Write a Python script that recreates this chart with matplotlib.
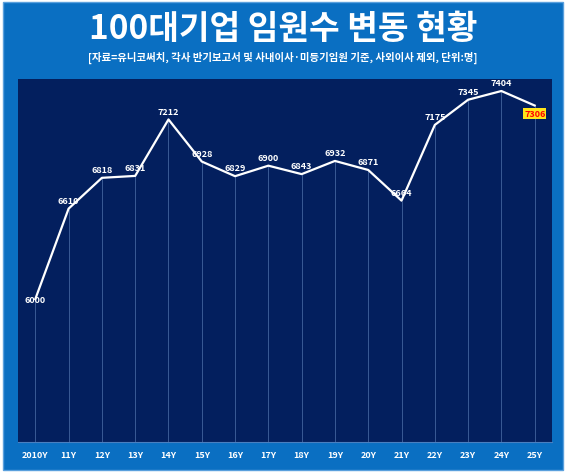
import matplotlib
matplotlib.use("Agg")
import matplotlib.pyplot as plt
from matplotlib.patches import Rectangle

plt.rcParams['font.family'] = ['Noto Sans CJK KR', 'DejaVu Sans']

years = ["2010Y","11Y","12Y","13Y","14Y","15Y","16Y","17Y","18Y","19Y","20Y","21Y","22Y","23Y","24Y","25Y"]
values = [6000,6610,6818,6831,7212,6928,6829,6900,6843,6932,6871,6664,7175,7345,7404,7306]
title = "100대기업 임원수 변동 현황"
subtitle = "[자료=유니코써치, 각사 반기보고서 및 사내이사·미등기임원 기준, 사외이사 제외, 단위:명]"

W, H = 566, 477
fig = plt.figure(figsize=(W/100, H/100), dpi=100)
fig.patch.set_facecolor('white')
fig.patches.append(Rectangle((3/W, 6/H), 560/W, 468/H, transform=fig.transFigure,
                             facecolor='#0a6fc2', edgecolor='#5aa0dd', lw=1, zorder=-10))
fig.text(0.5, 1-30/H, title, ha='center', va='center', color='white', fontsize=24, fontweight='black')
fig.text(0.5, 1-58/H, subtitle, ha='center', va='center', color='white', fontsize=7.5, fontweight='bold')

ax = fig.add_axes([18/W, 1-443/H, 534/W, 363/H], zorder=5)
ax.set_facecolor('#031f5e')
x = list(range(len(values)))
ax.set_xlim(-0.52, len(values)-0.48)
ax.set_ylim(5035, 7485)
ax.vlines(x, 5035, values, colors='#3a5a95', lw=0.7)
ax.plot(x, values, color='white', lw=1.6)
for i, v in enumerate(values):
    if i == 0:
        ax.text(i, v, str(v), color='white', fontsize=6.5, fontweight='bold', ha='center', va='center')
    elif i == len(values)-1:
        ax.text(i, v-25, str(v), color='red', fontsize=6.5, fontweight='bold', ha='center', va='top',
                bbox=dict(boxstyle='square,pad=0.1', fc='#ffe51a', ec='none'))
    else:
        ax.text(i, v+25, str(v), color='white', fontsize=6.5, fontweight='bold', ha='center', va='bottom')
ax.set_xticks(x)
ax.set_xticklabels(years, color='white', fontsize=6.5, fontweight='bold')
ax.tick_params(axis='x', length=0, pad=6)
ax.set_yticks([])
for s in ax.spines.values():
    s.set_visible(False)
ax.spines['bottom'].set_visible(True)
ax.spines['bottom'].set_color('#4a7fc0')
fig.savefig('out.png', dpi=100)
